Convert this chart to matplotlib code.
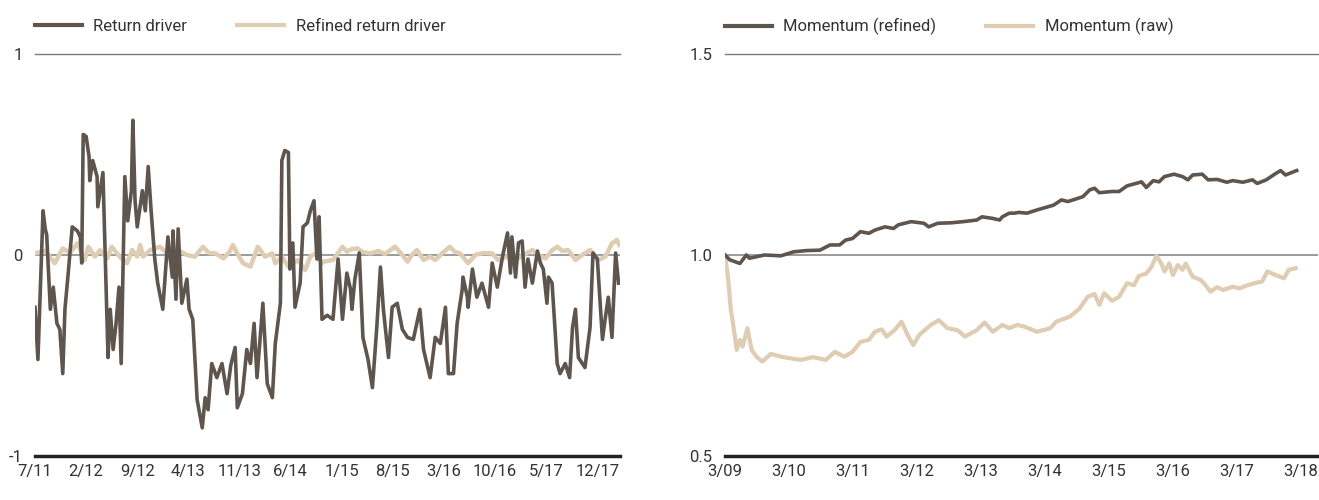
import matplotlib
matplotlib.use("Agg")
import matplotlib.pyplot as plt
from matplotlib.lines import Line2D

# ---------------- data ----------------
# Left panel: months since Jul 2011
rd_t = [0, 0.4, 1.1, 1.4, 1.6, 2.1, 2.5, 3.0, 3.4, 3.8, 4.1, 4.5, 5.1, 5.8, 6.2, 6.4, 6.6, 7.0, 7.4, 7.5,
        7.9, 8.5, 8.6, 9.3, 10.0, 10.3, 10.7, 11.1, 11.5, 11.8, 12.3, 12.7, 13.2, 13.4, 13.7, 14.0, 14.7,
        15.1, 15.5, 15.9, 16.4, 16.8, 17.5, 18.2, 18.8, 18.9, 19.3, 19.6, 20.1, 20.8, 21.1, 21.6, 22.2,
        22.9, 23.3, 23.7, 24.2, 24.9, 25.6, 26.3, 26.8, 27.4, 27.7, 28.4, 29.0, 29.5, 30.0, 30.4, 31.2,
        31.8, 32.5, 32.9, 33.6, 33.8, 34.2, 34.7, 34.9, 35.3, 35.6, 36.3, 36.7, 37.3, 37.7, 38.2, 38.6,
        38.9, 39.3, 40.0, 40.8, 41.5, 42.1, 42.7, 43.2, 43.4, 43.8, 44.4, 44.9, 45.6, 46.2, 46.8, 47.3,
        47.7, 48.4, 48.9, 49.6, 50.3, 51.0, 51.8, 52.7, 53.2, 54.1, 54.8, 55.5, 56.2, 56.6, 57.3, 57.8,
        58.5, 58.6, 59.2, 59.3, 59.9, 60.5, 61.2, 62.1, 62.6, 63.3, 64.0, 64.7, 65.1, 65.3, 65.8, 66.2,
        66.7, 67.1, 67.5, 68.1, 68.8, 69.2, 69.6, 70.1, 70.3, 70.8, 71.1, 71.5, 71.9, 72.6, 73.2, 73.6,
        74.0, 74.4, 75.3, 76.0, 76.4, 77.0, 77.7, 78.1, 78.5, 79.0, 79.5, 79.9]
rd_v = [-0.26, -0.52, 0.22, 0.13, 0.10, -0.27, -0.16, -0.34, -0.37, -0.59, -0.27, -0.11, 0.14, 0.12, 0.09,
        -0.04, 0.60, 0.59, 0.49, 0.37, 0.47, 0.39, 0.24, 0.41, -0.51, -0.27, -0.47, -0.34, -0.16, -0.54,
        0.39, 0.17, 0.32, 0.67, 0.27, 0.14, 0.32, 0.22, 0.44, 0.22, -0.02, -0.14, -0.27, 0.09, -0.11, 0.12,
        -0.22, 0.13, -0.24, -0.12, -0.27, -0.32, -0.72, -0.86, -0.71, -0.77, -0.54, -0.61, -0.54, -0.69,
        -0.55, -0.46, -0.76, -0.69, -0.47, -0.54, -0.34, -0.61, -0.24, -0.64, -0.71, -0.44, -0.24, 0.47,
        0.52, 0.51, -0.07, 0.06, -0.26, -0.14, 0.14, 0.16, 0.22, 0.27, -0.02, 0.19, -0.32, -0.30, -0.32,
        -0.02, -0.32, -0.09, -0.17, -0.27, -0.12, 0.01, -0.41, -0.52, -0.66, -0.36, -0.06, -0.27, -0.51,
        -0.26, -0.24, -0.37, -0.41, -0.42, -0.27, -0.47, -0.61, -0.41, -0.44, -0.26, -0.59, -0.59, -0.34,
        -0.17, -0.11, -0.21, -0.26, -0.07, -0.21, -0.14, -0.26, -0.04, -0.16, -0.01, 0.11, -0.09, 0.09,
        -0.11, 0.06, 0.07, -0.16, -0.02, -0.14, 0.02, -0.04, -0.07, -0.24, -0.11, -0.14, -0.31, -0.54,
        -0.59, -0.54, -0.61, -0.36, -0.27, -0.51, -0.56, -0.36, 0.01, -0.02, -0.42, -0.31, -0.21, -0.41,
        0.01, -0.14]

rrd_t = [0, 1.4, 2.7, 3.8, 4.8, 5.8, 6.8, 7.3, 8.2, 8.9, 9.9, 10.5, 11.6, 12.6, 13.3, 14.0, 14.4, 14.8,
         15.8, 17.1, 18.1, 18.8, 19.5, 19.6, 20.8, 21.9, 23.0, 23.8, 24.7, 25.8, 26.6, 27.1, 27.8, 28.5,
         29.5, 30.5, 31.5, 32.5, 32.9, 33.8, 34.7, 36.0, 37.0, 37.7, 38.4, 39.3, 39.5, 40.8, 42.1, 42.7,
         43.4, 44.1, 44.9, 45.9, 47.0, 47.9, 49.3, 50.3, 51.0, 51.6, 52.3, 53.2, 54.1, 54.8, 55.8, 56.8,
         57.5, 58.2, 59.3, 60.3, 61.4, 62.6, 63.4, 64.7, 65.3, 66.2, 67.1, 68.1, 68.9, 69.9, 70.7, 71.5,
         72.2, 73.0, 74.0, 74.9, 76.0, 76.6, 77.1, 78.1, 79.0, 79.7, 80.0]
rrd_v = [0.008, 0.02, -0.041, 0.033, 0.01, 0.058, -0.025, 0.041, -0.008, 0.025, -0.017, 0.041, -0.008,
         -0.041, 0.025, -0.008, 0.05, -0.008, 0.025, 0.041, 0.008, -0.041, -0.008, 0.025, 0.0, -0.008,
         0.041, 0.01, 0.008, -0.017, 0.015, 0.05, 0.0, -0.041, -0.058, 0.041, -0.008, 0.008, -0.041,
         -0.008, -0.058, -0.025, -0.075, -0.008, 0.008, -0.041, -0.033, -0.025, 0.041, 0.017, 0.03,
         0.033, 0.015, 0.008, 0.02, 0.005, 0.041, 0.0, -0.033, 0.0, 0.025, -0.025, -0.008, -0.025, 0.01,
         0.041, 0.015, 0.008, -0.041, 0.0, 0.01, 0.008, -0.025, -0.008, 0.01, -0.017, 0.005, 0.025, 0.0,
         -0.017, 0.02, 0.041, 0.02, 0.025, -0.025, 0.0, 0.025, 0.0, -0.025, -0.008, 0.058, 0.075, 0.05]

left_ticks = ["7/11", "2/12", "9/12", "4/13", "11/13", "6/14", "1/15", "8/15", "3/16", "10/16", "5/17", "12/17"]

# Right panel: months since Mar 2009
mr_t = [0, 0.9, 2.8, 4.0, 4.6, 7.4, 10.5, 12.9, 15.3, 17.8, 19.7, 21.5, 22.6, 23.9, 25.4, 27.0, 28.1,
        30.0, 31.6, 32.5, 34.9, 37.3, 38.2, 39.9, 42.3, 44.7, 47.2, 48.2, 50.2, 51.5, 52.0, 53.3, 54.2,
        55.1, 56.6, 58.5, 61.6, 63.1, 64.3, 67.1, 68.4, 69.3, 70.2, 72.6, 73.9, 75.4, 77.6, 78.1, 79.0,
        80.3, 81.4, 82.4, 84.2, 85.8, 86.8, 87.7, 89.5, 90.6, 92.3, 94.1, 95.2, 97.1, 98.9, 99.8, 101.5,
        103.3, 104.2, 105.1, 107.2]
mr_v = [1.000, 0.988, 0.979, 1.000, 0.992, 1.000, 0.998, 1.008, 1.011, 1.012, 1.025, 1.025, 1.037,
        1.041, 1.058, 1.054, 1.062, 1.070, 1.066, 1.075, 1.083, 1.079, 1.070, 1.079, 1.080, 1.083, 1.087,
        1.095, 1.091, 1.087, 1.095, 1.104, 1.104, 1.106, 1.104, 1.112, 1.124, 1.137, 1.133, 1.145, 1.162,
        1.166, 1.155, 1.158, 1.158, 1.172, 1.180, 1.182, 1.168, 1.185, 1.182, 1.195, 1.201, 1.195, 1.187,
        1.199, 1.201, 1.187, 1.188, 1.181, 1.185, 1.181, 1.187, 1.178, 1.187, 1.203, 1.210, 1.199, 1.210]

mw_t = [0, 0.55, 1.1, 1.5, 2.2, 2.8, 3.3, 4.2, 5.0, 5.9, 7.0, 8.6, 10.5, 12.3, 14.2, 16.5, 18.9, 20.6,
        22.4, 23.9, 25.4, 27.0, 28.1, 29.4, 30.3, 31.8, 33.1, 34.4, 35.3, 36.4, 38.6, 40.1, 41.7, 43.6,
        45.0, 47.2, 48.7, 50.2, 52.0, 53.3, 54.8, 56.1, 58.5, 61.0, 62.1, 64.7, 66.5, 68.0, 69.3, 70.2,
        71.1, 72.6, 73.9, 75.4, 76.7, 77.6, 79.0, 80.0, 80.9, 81.8, 82.4, 83.3, 84.0, 84.9, 85.8, 86.4,
        87.7, 89.2, 90.1, 91.0, 92.3, 93.4, 95.2, 96.5, 98.0, 99.6, 100.7, 101.7, 103.3, 104.8, 105.7, 107.0]
mw_v = [1.000, 0.946, 0.863, 0.830, 0.764, 0.789, 0.772, 0.818, 0.764, 0.747, 0.735, 0.754, 0.747, 0.743,
        0.739, 0.746, 0.739, 0.759, 0.747, 0.759, 0.784, 0.789, 0.809, 0.815, 0.797, 0.813, 0.834, 0.797,
        0.776, 0.801, 0.826, 0.838, 0.818, 0.813, 0.797, 0.813, 0.832, 0.809, 0.826, 0.818, 0.826, 0.822,
        0.809, 0.818, 0.834, 0.847, 0.867, 0.896, 0.903, 0.876, 0.905, 0.886, 0.896, 0.930, 0.925, 0.948,
        0.954, 0.971, 0.998, 0.979, 0.959, 0.979, 0.950, 0.975, 0.963, 0.979, 0.946, 0.938, 0.925, 0.909,
        0.920, 0.913, 0.921, 0.917, 0.925, 0.931, 0.934, 0.959, 0.950, 0.942, 0.963, 0.967]

right_ticks = ["3/09", "3/10", "3/11", "3/12", "3/13", "3/14", "3/15", "3/16", "3/17", "3/18"]

# ---------------- style ----------------
DARK = "#5e554e"
LIGHT = "#dfcdb3"
TEXT = "#333333"
plt.rcParams["font.family"] = ["Roboto", "DejaVu Sans"]
plt.rcParams["font.size"] = 12

fig = plt.figure(figsize=(13.19, 5.0), dpi=100)
axL = fig.add_axes([35 / 1319, 44 / 500, 585 / 1319, 402 / 500])
axR = fig.add_axes([725 / 1319, 44 / 500, 593 / 1319, 402 / 500])


def style(ax, ylo, ymid, yhi, ylabels, xlim, xticks, xlabels):
    ax.set_xlim(*xlim)
    ax.set_ylim(ylo, yhi)
    for s in ax.spines.values():
        s.set_visible(False)
    ax.axhline(yhi, color="#7a7a7a", lw=1.0, zorder=1, clip_on=False)
    ax.axhline(ymid, color="#8a8a8a", lw=1.2, zorder=1)
    ax.axhline(ylo, color="#222222", lw=2.5, zorder=5, clip_on=False)
    ax.set_yticks([ylo, ymid, yhi])
    ax.set_yticklabels(ylabels)
    ax.set_xticks(xticks)
    ax.set_xticklabels(xlabels)
    ax.tick_params(axis="both", length=0, colors=TEXT, labelsize=12)
    ax.tick_params(axis="y", pad=9)
    ax.tick_params(axis="x", pad=6)


axL.plot(rrd_t, rrd_v, color=LIGHT, lw=3.2, zorder=2, solid_joinstyle="round")
axL.plot(rd_t, rd_v, color=DARK, lw=2.6, zorder=3, solid_joinstyle="round")
style(axL, -1, 0, 1, ["-1", "0", "1"], (0, 80.1), [7 * i for i in range(len(left_ticks))], left_ticks)

axR.plot(mw_t, mw_v, color=LIGHT, lw=3.0, zorder=2, solid_joinstyle="round")
axR.plot(mr_t, mr_v, color=DARK, lw=2.6, zorder=3, solid_joinstyle="round")
style(axR, 0.5, 1.0, 1.5, ["0.5", "1.0", "1.5"], (0, 111.2), [12 * i for i in range(len(right_ticks))], right_ticks)

handles_L = [Line2D([], [], color=DARK, lw=3), Line2D([], [], color=LIGHT, lw=3)]
axL.legend(handles_L, ["Return driver", "Refined return driver"], loc="center left",
           bbox_to_anchor=(0.0, 1.068), ncol=2, frameon=False, handlelength=2.8,
           handletextpad=0.7, columnspacing=3.0, borderaxespad=0, borderpad=0,
           labelcolor=TEXT, fontsize=12)
axR.legend(handles_L, ["Momentum (refined)", "Momentum (raw)"], loc="center left",
           bbox_to_anchor=(0.0, 1.068), ncol=2, frameon=False, handlelength=2.8,
           handletextpad=0.7, columnspacing=3.0, borderaxespad=0, borderpad=0,
           labelcolor=TEXT, fontsize=12)

fig.savefig("out.png", dpi=100)
